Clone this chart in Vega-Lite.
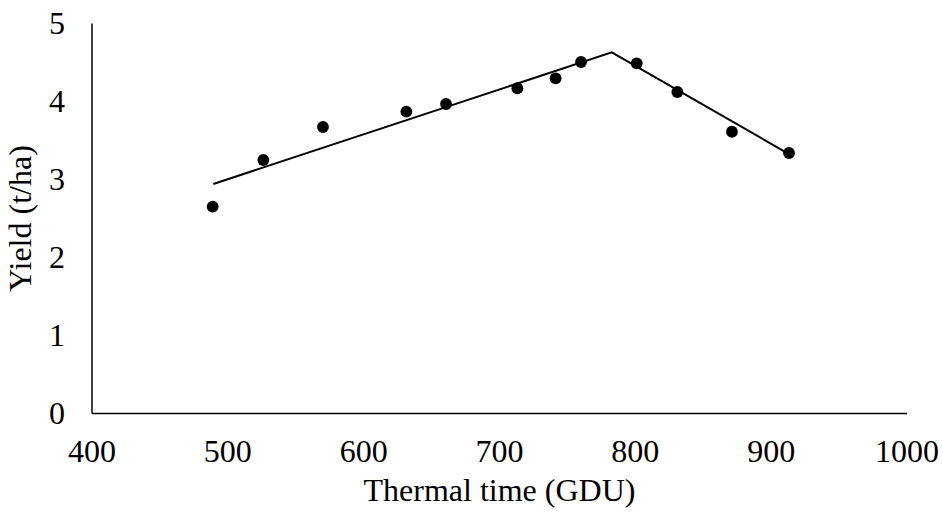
{
  "$schema": "https://vega.github.io/schema/vega-lite/v6.json",
  "autosize": "none",
  "width": 815,
  "height": 390,
  "padding": {"left": 91.5, "top": 23, "right": 36.5, "bottom": 99},
  "background": "white",
  "config": {
    "view": {"stroke": null},
    "font": "Liberation Serif",
    "axis": {
      "grid": false,
      "ticks": false,
      "domainColor": "black",
      "domainWidth": 1.5,
      "labelFont": "Liberation Serif",
      "labelFontSize": 32,
      "labelColor": "black",
      "titleFont": "Liberation Serif",
      "titleFontSize": 32,
      "titleFontWeight": "normal",
      "titleColor": "black"
    }
  },
  "datasets": {
    "obs": [
      {"gdu": 489.2, "yield": 2.645},
      {"gdu": 526.5, "yield": 3.244},
      {"gdu": 570.4, "yield": 3.667},
      {"gdu": 631.8, "yield": 3.863},
      {"gdu": 661.0, "yield": 3.962},
      {"gdu": 713.5, "yield": 4.163},
      {"gdu": 741.7, "yield": 4.291},
      {"gdu": 760.4, "yield": 4.5},
      {"gdu": 801.4, "yield": 4.483},
      {"gdu": 831.3, "yield": 4.115},
      {"gdu": 871.5, "yield": 3.606},
      {"gdu": 913.5, "yield": 3.333}
    ],
    "fit": [
      {"gdu": 489.7, "yield": 2.936},
      {"gdu": 783.0, "yield": 4.624},
      {"gdu": 913.5, "yield": 3.32}
    ]
  },
  "layer": [
    {
      "data": {"name": "fit"},
      "mark": {"type": "line", "color": "black", "strokeWidth": 2},
      "encoding": {
        "x": {"field": "gdu", "type": "quantitative", "scale": {"domain": [400, 1000], "nice": false, "zero": false},
              "axis": {"title": "Thermal time (GDU)", "format": "d", "values": [400, 500, 600, 700, 800, 900, 1000], "labelPadding": 23, "titlePadding": 8, "labelFlush": false}},
        "y": {"field": "yield", "type": "quantitative", "scale": {"domain": [0, 5], "nice": false},
              "axis": {"title": "Yield (t/ha)", "format": "d", "values": [0, 1, 2, 3, 4, 5], "labelPadding": 27, "titlePadding": 11}}
      }
    },
    {
      "data": {"name": "obs"},
      "mark": {"type": "point", "filled": true, "shape": "circle", "color": "black", "opacity": 1, "size": 140},
      "encoding": {
        "x": {"field": "gdu", "type": "quantitative"},
        "y": {"field": "yield", "type": "quantitative"}
      }
    }
  ]
}
